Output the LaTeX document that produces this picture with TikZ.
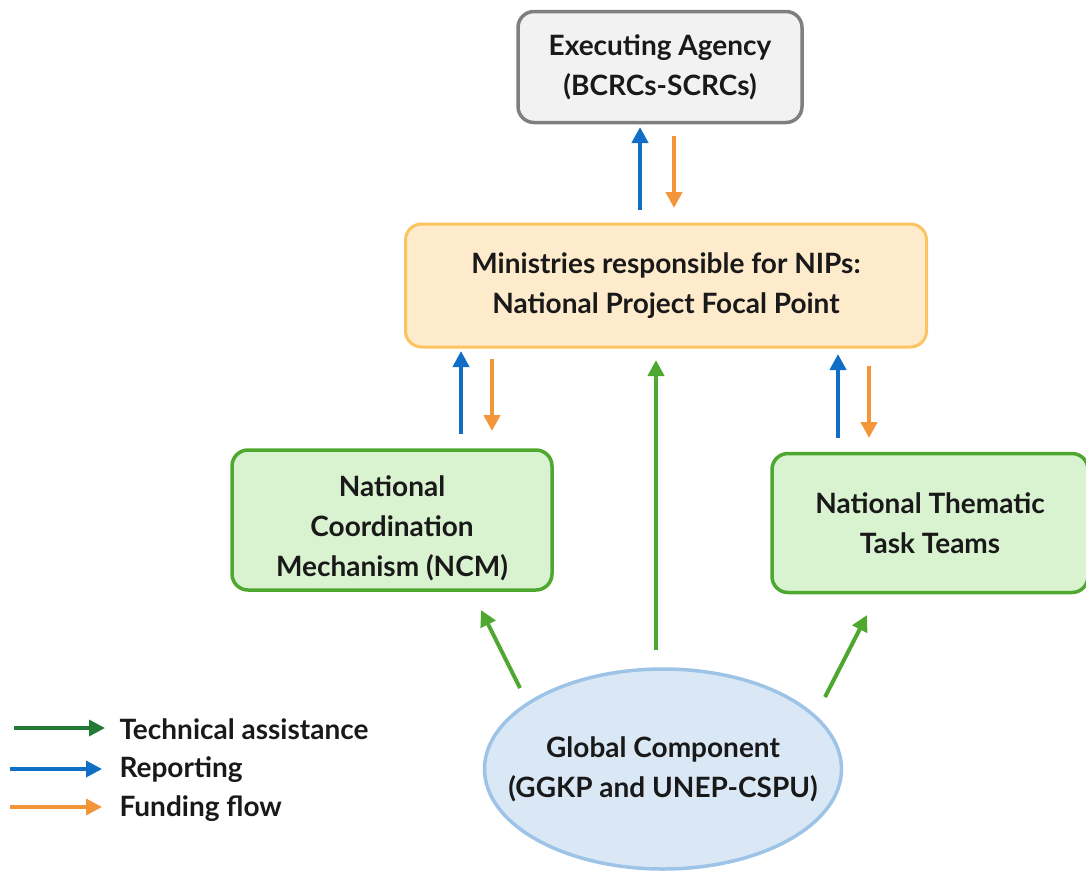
\documentclass[tikz,border=0pt]{standalone}
\usepackage{fontspec}
\setmainfont{Lato}
\usetikzlibrary{arrows.meta,shapes.geometric}
\definecolor{grayfill}{HTML}{F2F2F2}
\definecolor{grayline}{HTML}{7F7F7F}
\definecolor{orangefill}{HTML}{FDEBCC}
\definecolor{orangeline}{HTML}{FBC460}
\definecolor{greenfill}{HTML}{D9F2D0}
\definecolor{greenline}{HTML}{4EA72E}
\definecolor{bluefill}{HTML}{DAE8F6}
\definecolor{blueline}{HTML}{9DC3E6}
\definecolor{repblue}{HTML}{0F6FC6}
\definecolor{fundorange}{HTML}{F39539}
\definecolor{tagreen}{HTML}{4EA72E}
\definecolor{legendgreen}{HTML}{237A35}
\tikzset{
  lbl/.style={font=\bfseries\fontsize{28}{40}\selectfont, align=center, text=black!90},
  box/.style={draw, rounded corners=16pt, line width=3.5pt, inner sep=0pt},
  flow/.style={line width=4pt, -{Triangle[width=16pt,length=16pt]}},
  repflow/.style={flow, repblue},
  fundflow/.style={flow, fundorange},
  taflow/.style={flow, tagreen},
}
\begin{document}
\begin{tikzpicture}[x=1pt,y=-1pt]
\useasboundingbox (0,0) rectangle (1086,873);

% boxes
\node[box, draw=grayline, fill=grayfill, minimum width=284pt, minimum height=111pt] (exec) at (660,67) {};
\node[lbl] at (exec) {Executing Agency\\(BCRCs-SCRCs)};

\node[box, draw=orangeline, line width=3pt, fill=orangefill, minimum width=521pt, minimum height=123pt] (min) at (666,285.5) {};
\node[lbl] at (min) {Ministries responsible for NIPs:\\National Project Focal Point};

\node[box, draw=greenline, fill=greenfill, minimum width=320pt, minimum height=140pt] (ncm) at (392,520) {};
\node[lbl] at ([yshift=-8pt]ncm.center) {National\\Coordination\\Mechanism (NCM)};

\node[box, draw=greenline, fill=greenfill, minimum width=316pt, minimum height=139pt] (ttt) at (930,523) {};
\node[lbl] at ([yshift=0pt]ttt.center) {National Thematic\\Task Teams};

\node[ellipse, draw=blueline, fill=bluefill, line width=3.5pt, minimum width=357pt, minimum height=200pt, inner sep=0pt] (glob) at (663,769) {};
\node[lbl] at (glob) {Global Component\\(GGKP and UNEP-CSPU)};

% anchor points for the connectors
\coordinate (e1) at (640,127);  \coordinate (m1) at (640,210);
\coordinate (e2) at (674,136);  \coordinate (m2) at (674,208);
\coordinate (m3) at (461,351);  \coordinate (n1) at (461,434);
\coordinate (m4) at (492,359);  \coordinate (n2) at (492,431);
\coordinate (m5) at (838,354);  \coordinate (t1) at (838,438);
\coordinate (m6) at (869,366);  \coordinate (t2) at (869,438);
\coordinate (m7) at (656,360);  \coordinate (g1) at (656,650);
\coordinate (n3) at (481,610);  \coordinate (g2) at (520,688);
\coordinate (t3) at (867,615);  \coordinate (g3) at (825,697);

% reporting and funding between the levels
\draw[repflow] (m1) -- (e1);
\draw[fundflow] (e2) -- (m2);
\draw[repflow] (n1) -- (m3);
\draw[fundflow] (m4) -- (n2);
\draw[repflow] (t1) -- (m5);
\draw[fundflow] (m6) -- (t2);

% technical assistance from the global component
\draw[taflow] (g1) -- (m7);
\draw[taflow] (g2) -- (n3);
\draw[taflow] (g3) -- (t3);

% legend
\coordinate (la1) at (14,728);  \coordinate (la2) at (105,728);
\coordinate (lb1) at (10,769);  \coordinate (lb2) at (102,769);
\coordinate (lc1) at (10,807);  \coordinate (lc2) at (102,807);
\draw[flow, line width=3.5pt, legendgreen] (la1) -- (la2);
\draw[flow, line width=3.5pt, repblue] (lb1) -- (lb2);
\draw[flow, line width=3.5pt, fundorange] (lc1) -- (lc2);
\node[lbl, anchor=west] (lta) at (116,729) {Technical assistance};
\node[lbl, anchor=west] (ltb) at (116,770) {Reporting};
\node[lbl, anchor=west] (ltc) at (116,809) {Funding flow};
\end{tikzpicture}
\end{document}
